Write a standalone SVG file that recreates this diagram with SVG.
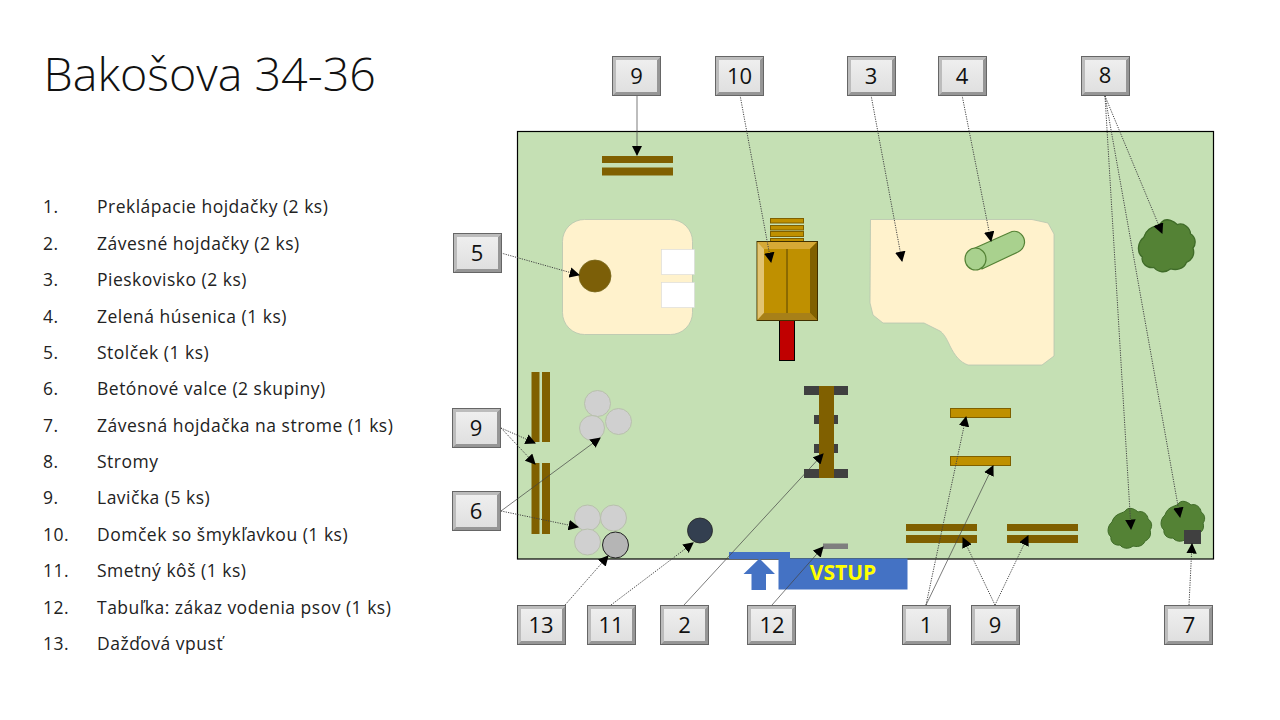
<svg xmlns="http://www.w3.org/2000/svg" width="1280" height="720" viewBox="0 0 1280 720">
<style>
.t{font-family:"Open Sans","Noto Sans","Liberation Sans",sans-serif;fill:#222}
.li{font-size:17.5px;letter-spacing:.5px}
.n{font-size:22px;text-anchor:middle;fill:#111}
.c{fill:none;stroke:#444;stroke-width:1;stroke-dasharray:1.2 1.2;marker-end:url(#a)}
.s{stroke-dasharray:none;stroke-width:.7}
.br{fill:#806000}
.go{fill:#bf9000;stroke:#7f6000;stroke-width:1}
.dk{fill:#404040}
.gr{fill:#d0d0d0;stroke:#b8c0ac;stroke-width:1}
.tree{fill:#548235;stroke:#3f6b28;stroke-width:1}
.sand{fill:#fff2cc;stroke:#b8c4b0;stroke-width:.8}
</style>
<defs>
<marker id="a" viewBox="0 0 10 10" refX="9" refY="5" markerWidth="10.500" markerHeight="10.500" markerUnits="userSpaceOnUse" orient="auto"><path d="M0 0L10 5L0 10z" fill="#000"/></marker>
<linearGradient id="fill" x1="0" y1="0" x2="0" y2="1"><stop offset="0" stop-color="#f0f0f0"/><stop offset="1" stop-color="#dedede"/></linearGradient>
<g id="box">
<rect x=".5" y=".5" width="48" height="39" fill="url(#fill)" stroke="#666"/>
<path d="M1 1H48L45 4H4V36L1 39z" fill="#bcbcbc"/>
<path d="M48 1V39H1L4 36H45V4z" fill="#969696"/>
</g>
<g id="tree1"><path d="M-18 -8C-15 -18 -6 -16 -4 -20C0 -24 6 -20 8 -18C13 -20 18 -15 18 -11C23 -8 22 -2 20 0C22 6 18 10 15 11C13 17 6 17 3 16C-2 20 -8 18 -10 15C-16 16 -20 11 -19 7C-24 3 -22 -5 -18 -8z" class="tree"/></g>
</defs>
<rect width="1280" height="720" fill="#fff"/>
<text class="t" x="43.500" y="91" font-size="46.600" font-weight="300" style="fill:#111">Bakošova 34-36</text>
<g id="legend" class="t li">
<text x="43" y="213">1.</text><text x="97" y="213">Preklápacie hojdačky (2 ks)</text>
<text x="43" y="250">2.</text><text x="97" y="250">Závesné hojdačky (2 ks)</text>
<text x="43" y="286">3.</text><text x="97" y="286">Pieskovisko (2 ks)</text>
<text x="43" y="323">4.</text><text x="97" y="323">Zelená húsenica (1 ks)</text>
<text x="43" y="359">5.</text><text x="97" y="359">Stolček (1 ks)</text>
<text x="43" y="395">6.</text><text x="97" y="395">Betónové valce (2 skupiny)</text>
<text x="43" y="432">7.</text><text x="97" y="432">Závesná hojdačka na strome (1 ks)</text>
<text x="43" y="468">8.</text><text x="97" y="468">Stromy</text>
<text x="43" y="504">9.</text><text x="97" y="504">Lavička (5 ks)</text>
<text x="43" y="541">10.</text><text x="97" y="541">Domček so šmykľavkou (1 ks)</text>
<text x="43" y="577">11.</text><text x="97" y="577">Smetný kôš (1 ks)</text>
<text x="43" y="614">12.</text><text x="97" y="614">Tabuľka: zákaz vodenia psov (1 ks)</text>
<text x="43" y="650">13.</text><text x="97" y="650">Dažďová vpusť</text>
</g>
<g id="site">
<rect x="517.500" y="131.500" width="696" height="427.500" fill="#c5e0b4" stroke="#000" stroke-width="1.200"/>
<path d="M729 559V552H790V559z" fill="#4472c4"/>
</g>
<g id="sandpit-left"><rect x="562.500" y="219.500" width="130" height="115" rx="22" class="sand"/><rect x="661.500" y="249.500" width="33" height="25" fill="#fff" stroke="#d8d8d8" stroke-width=".6"/><rect x="661.500" y="282.500" width="33" height="25" fill="#fff" stroke="#d8d8d8" stroke-width=".6"/></g>
<g id="stool"><circle cx="595" cy="276" r="16" fill="#7c5f08" stroke="#7a6a20" stroke-width=".8"/></g>
<g id="sandpit-right"><path d="M870.500 219.500H1032L1048 223L1054 234V356L1042 365H968C960 362 955 356 950 346C946 337 943 333 940 331L924 323H883L873 315L870 303z" class="sand"/></g>
<g id="caterpillar"><path d="M975 248L1012 231.500C1019 230 1025 236 1024.500 243C1024 247 1022 250 1018 252L982 269z" fill="#a9d18e" stroke="#548235" stroke-width="1.200"/><ellipse cx="975.500" cy="259" rx="10.500" ry="11" fill="#a9d18e" stroke="#548235" stroke-width="1.200"/></g>
<g id="house">
<rect x="770.500" y="218.500" width="33" height="4.500" class="go"/><rect x="770.500" y="225.500" width="33" height="4.500" class="go"/><rect x="770.500" y="231.500" width="33" height="5" class="go"/><rect x="770.500" y="238.500" width="33" height="5" class="go"/>
<rect x="779.500" y="320.500" width="15" height="40" fill="#c00000" stroke="#000"/>
<rect x="757" y="241.500" width="60.500" height="79" fill="#bf9000" stroke="#403000"/>
<path d="M757.500 242H817L810 249H764z" fill="#d6a936"/>
<path d="M757.500 242V320L764 313V249z" fill="#e2c472"/>
<path d="M817 242V320L810 313V249z" fill="#806000"/>
<path d="M757.500 320H817L810 313H764z" fill="#a78018"/>
<path d="M787 249V313" fill="none" stroke="#403000" stroke-width=".8"/>
</g>
<g id="swing">
<rect x="804" y="386" width="44" height="9" class="dk"/><rect x="804" y="469" width="44" height="9" class="dk"/><rect x="814" y="415" width="24" height="9" class="dk"/><rect x="814" y="444" width="24" height="9" class="dk"/>
<rect x="819" y="386" width="15" height="92" class="br"/>
</g>
<g id="seesaws"><rect x="950.500" y="408.500" width="60" height="9" class="go"/><rect x="950.500" y="456.500" width="60" height="9" class="go"/></g>
<g id="benches" class="br">
<rect x="602" y="156" width="71" height="7"/><rect x="602" y="167.500" width="71" height="8"/>
<rect x="531.500" y="372" width="8" height="70"/><rect x="542" y="372" width="8" height="70"/>
<rect x="531.500" y="463" width="8" height="71"/><rect x="542" y="463" width="8" height="71"/>
<rect x="906" y="524" width="71" height="7"/><rect x="906" y="535" width="71" height="8"/>
<rect x="1007" y="524" width="71" height="7"/><rect x="1007" y="535" width="71" height="8"/>
</g>
<g id="cylinders">
<circle cx="597.500" cy="403.500" r="13" class="gr"/><circle cx="592" cy="428" r="12.500" class="gr"/><circle cx="618.500" cy="421.500" r="13" class="gr"/>
<circle cx="587.500" cy="518" r="13" class="gr"/><circle cx="613.500" cy="518" r="13" class="gr"/><circle cx="587.500" cy="542" r="13" class="gr"/>
</g>
<g id="drain"><circle cx="615.500" cy="545" r="13" fill="#b5b5b5" stroke="#222"/></g>
<g id="bin"><circle cx="700" cy="530.500" r="12.500" fill="#333f50" stroke="#222" stroke-width=".8"/></g>
<g id="sign"><rect x="823" y="543.500" width="25" height="5.500" fill="#7f7f7f"/></g>
<g id="trees"><use href="#tree1" transform="translate(1167 248) scale(1.300)"/><use href="#tree1" transform="translate(1130 530)"/><use href="#tree1" transform="translate(1183 523)"/></g>
<g id="hammock"><rect x="1184" y="530" width="17" height="14" fill="#404040"/></g>
<g id="entrance">
<rect x="778.500" y="558.500" width="129" height="31" fill="#4472c4"/>
<path d="M759.500 558.500L775 574H766V590H751.500V574H743.500z" fill="#4472c4"/>
<text x="843" y="580" text-anchor="middle" font-family="Open Sans,Liberation Sans,sans-serif" font-size="21" font-weight="700" fill="#ffff00">VSTUP</text>
</g>
<g id="connectors">
<path class="c s" d="M637 95V155"/>
<path class="c" d="M740 95L771 262"/>
<path class="c" d="M871 95L902 261"/>
<path class="c" d="M962 95L991 241"/>
<path class="c" d="M1105 96L1162 233"/>
<path class="c" d="M1105 96L1131 529"/>
<path class="c" d="M1105 96L1180 517"/>
<path class="c" d="M501 253L579 275"/>
<path class="c" d="M501 428L535 443"/>
<path class="c" d="M501 428L535 464"/>
<path class="c s" d="M501 511L600 438"/>
<path class="c" d="M501 511L578 527"/>
<path class="c" d="M565 605L608 556"/>
<path class="c" d="M611 605L693 543"/>
<path class="c s" d="M684 605L823 454"/>
<path class="c s" d="M772 605L823 547"/>
<path class="c" d="M926 605L966 417"/>
<path class="c s" d="M926 605L993 466"/>
<path class="c" d="M995 605L963 538"/>
<path class="c" d="M995 605L1028 536"/>
<path class="c" d="M1189 605L1192 544"/>
</g>
<g id="n-9a"><use href="#box" x="612" y="56"/><text class="t n" x="636.500" y="84">9</text></g>
<g id="n-10"><use href="#box" x="715" y="56"/><text class="t n" x="739.500" y="84">10</text></g>
<g id="n-3"><use href="#box" x="847" y="56"/><text class="t n" x="871" y="84">3</text></g>
<g id="n-4"><use href="#box" x="938" y="56"/><text class="t n" x="962" y="84">4</text></g>
<g id="n-8"><use href="#box" x="1081" y="56"/><text class="t n" x="1105" y="83">8</text></g>
<g id="n-5"><use href="#box" x="453" y="233"/><text class="t n" x="477" y="261">5</text></g>
<g id="n-9b"><use href="#box" x="452" y="408"/><text class="t n" x="476" y="436">9</text></g>
<g id="n-6"><use href="#box" x="452" y="491"/><text class="t n" x="476" y="519">6</text></g>
<g id="n-13"><use href="#box" x="517" y="605"/><text class="t n" x="541" y="633">13</text></g>
<g id="n-11"><use href="#box" x="587" y="605"/><text class="t n" x="611" y="633">11</text></g>
<g id="n-2"><use href="#box" x="660" y="605"/><text class="t n" x="684.500" y="633">2</text></g>
<g id="n-12"><use href="#box" x="747" y="605"/><text class="t n" x="772" y="633">12</text></g>
<g id="n-1"><use href="#box" x="902" y="605"/><text class="t n" x="926" y="633">1</text></g>
<g id="n-9c"><use href="#box" x="971" y="605"/><text class="t n" x="995" y="633">9</text></g>
<g id="n-7"><use href="#box" x="1164" y="605"/><text class="t n" x="1189" y="633">7</text></g>
</svg>
